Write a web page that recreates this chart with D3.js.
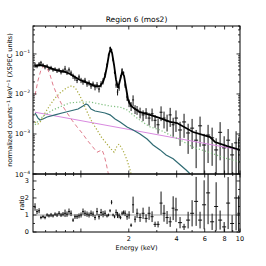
<!DOCTYPE html>
<html><head><meta charset="utf-8">
<script src="https://cdn.jsdelivr.net/npm/d3@7"></script>
<style>body{margin:0;background:#fff}svg{display:block}text{font-family:"DejaVu Sans",sans-serif;fill:#000}</style>
</head><body><svg id="c" width="266" height="266"></svg>
<script>
// ---- data ----
const dataE = [0.515,0.530,0.546,0.561,0.578,0.595,0.613,0.630,0.649,0.668,0.688,0.708,0.729,0.750,0.772,0.795,0.818,0.842,0.867,0.893,0.918,0.946,0.973,1.002,1.031,1.061,1.093,1.125,1.158,1.192,1.227,1.263,1.300,1.339,1.378,
 1.418,1.460,1.492,1.525,1.559,1.593,1.628,1.664,1.700,1.738,1.776,1.815,1.855,1.895,
 1.951,2.008,2.068,2.128,2.19,2.254,
 2.354,2.459,2.568,2.682,2.801,2.925,3.055,
 3.19,3.33,3.48,3.64,3.80,3.96,
 4.20,4.45,4.72,5.0,5.3,5.61,5.95,6.3,6.68,7.08,7.5,7.95,8.42,8.92,9.45,9.8];
const dataV = [0.053,0.050,0.056,0.060,0.053,0.047,0.050,0.042,0.045,0.040,0.042,0.038,0.040,0.035,0.038,0.042,0.035,0.040,0.0335,0.028,0.025,0.022,0.0266,0.022,0.020,0.022,0.0178,0.019,0.0158,0.0178,0.015,0.0168,0.0133,0.0178,0.0211,
 0.030,0.053,0.094,0.141,0.126,0.071,0.035,0.0168,0.0112,0.0141,0.0266,0.040,0.0335,0.0168,
 0.0084,0.0060,0.0050,0.0071,0.0042,0.0040,
 0.0035,0.0030,0.0034,0.0025,0.0032,0.0022,0.0017,
 0.0035,0.0025,0.0021,0.0030,0.0017,0.0025,
 0.00126,0.0020,0.00106,0.0014,0.0007,0.0016,0.00053,0.00094,0.0008,0.0004,0.0011,0.00045,0.0007,0.0003,0.0006,0.0004];
const dataRelErr = [0.15,0.12,0.12,0.12,0.1,0.12,0.1,0.1,0.12,0.1,0.1,0.12,0.12,0.12,0.12,0.2,0.15,0.15,0.15,0.15,0.15,0.15,0.15,0.15,0.15,0.15,0.15,0.15,0.15,0.15,0.18,0.18,0.18,0.18,0.18,
 0.15,0.1,0.08,0.07,0.07,0.08,0.1,0.15,0.18,0.15,0.12,0.1,0.1,0.15,
 0.2,0.22,0.25,0.3,0.25,0.25,
 0.3,0.3,0.3,0.35,0.35,0.35,0.4,
 0.4,0.45,0.45,0.5,0.5,0.55,
 0.6,0.6,0.7,0.7,0.8,0.7,0.9,0.8,0.8,0.95,0.8,0.95,0.9,0.98,0.95,0.95];
const ratioV = [1.47,1.2,1.25,0.85,0.9,0.85,1.0,0.95,1.0,0.95,1.05,1.0,1.1,1.0,1.05,1.1,1.05,1.2,1.1,0.7,0.9,0.9,0.95,1.0,1.2,1.1,1.05,1.0,1.1,1.05,0.85,1.2,0.9,1.15,1.05,
 1.1,0.95,1.0,1.25,1.75,1.0,0.9,1.15,1.0,0.95,0.85,1.1,1.15,1.1,
 0.9,1.0,0.4,1.6,0.75,1.1,
 0.85,1.1,0.8,1.1,0.9,0.45,0.45,
 1.7,1.1,0.85,0.6,1.4,1.3,
 0.55,0.3,0.7,1.1,1.8,0.7,1.6,2.3,0.6,1.5,0.7,0.3,1.7,0.5,2.0,1.1];

// total model
const modelE = [0.515,0.553,0.595,0.640,0.688,0.739,0.795,0.855,0.918,0.988,1.061,1.141,1.227,1.320,1.378,1.418,1.460,1.503,1.536,1.570,1.616,1.664,1.713,1.763,1.815,1.868,1.923,1.980,2.068,2.19,2.354,2.721,3.146,3.64,4.02,5.07,6.49,6.97,8.30,10.0];
const modelV = [0.050,0.053,0.050,0.0447,0.040,0.0376,0.0355,0.0316,0.0266,0.0224,0.020,0.0178,0.0158,0.0158,0.020,0.0282,0.050,0.1,0.133,0.106,0.053,0.0224,0.0141,0.0224,0.0355,0.0282,0.0141,0.0071,0.0050,0.0042,0.0035,0.0030,0.0025,0.0020,0.00188,0.00112,0.00084,0.00063,0.0005,0.0004];

// model components
const pinkE = [0.515,0.538,0.561,0.587,0.613,0.640,0.668,0.708,0.761,0.818,0.880,0.946,1.017,1.093,1.175,1.263,1.320,1.358,1.398,1.439,1.481,1.525];
const pinkV = [0.0094,0.022,0.040,0.050,0.0447,0.030,0.0168,0.0094,0.0053,0.0034,0.0022,0.0015,0.00106,0.00071,0.0005,0.00035,0.00038,0.0004,0.0003,0.00019,0.00011,0.00007];
const oliveE = [0.515,0.538,0.561,0.595,0.640,0.688,0.739,0.795,0.855,0.893,0.932,0.988,1.047,1.109,1.175,1.263,1.358,1.439,1.525,1.616,1.688,1.738,1.789,1.868,1.951,2.038,2.098];
const oliveV = [0.0020,0.00178,0.00211,0.00335,0.0053,0.0079,0.0106,0.0133,0.0158,0.0158,0.0133,0.0089,0.0053,0.00316,0.0020,0.00126,0.00079,0.0006,0.00045,0.00035,0.0005,0.00056,0.00047,0.00034,0.00022,0.000126,0.00008];
const greenE = [0.515,0.553,0.595,0.668,0.761,0.855,0.988,1.141,1.320,1.525,1.763,1.951,2.128,2.354,2.721,3.146,3.64,4.20,5.07,6.49,8.06,10.0];
const greenV = [0.0017,0.0024,0.0030,0.0040,0.005,0.006,0.0063,0.0063,0.0056,0.005,0.0047,0.0040,0.0030,0.0022,0.0015,0.00126,0.00094,0.00071,0.00047,0.00034,0.00025,0.0002];
const tealE = [0.515,0.538,0.553,0.578,0.613,0.688,0.761,0.855,0.960,1.031,1.077,1.109,1.158,1.227,1.320,1.418,1.525,1.640,1.763,1.951,2.128,2.354,2.606,2.842,3.146,3.431,3.80,4.20,4.585,4.93];
const tealV = [0.00335,0.0025,0.00224,0.00237,0.00266,0.0030,0.00335,0.00376,0.0042,0.005,0.0056,0.0053,0.0042,0.00376,0.00355,0.00335,0.0030,0.00237,0.0020,0.0015,0.00126,0.001,0.00075,0.00053,0.0004,0.0003,0.00024,0.00017,0.000126,0.000095];
const violetE = [0.515,2.0,10.0];
const violetV = [0.0035,0.0013,0.0004];

const xTickVals = [2,4,6,8,10];
const yTickVals = [1e-1,1e-2,1e-3,1e-4];
const yTickExp = ["−1","−2","−3","−4"];
const rTickVals = [0,1,2,3];

// ---- layout ----
const svg = d3.select("#c");
const L = 33, R = 240, T = 26, MB = 174, RB = 232;
const x = d3.scaleLog().domain([0.5, 10]).range([L, R]);
const y = d3.scaleLog().domain([1e-4, 0.5]).range([MB, T]);
const yr = d3.scaleLinear().domain([0, 3.41]).range([RB, MB]);

const defs = svg.append("defs");
defs.append("clipPath").attr("id","cm").append("rect").attr("x",L).attr("y",T).attr("width",R-L).attr("height",MB-T);
defs.append("clipPath").attr("id","cr").append("rect").attr("x",L).attr("y",MB).attr("width",R-L).attr("height",RB-MB);

const gm = svg.append("g").attr("clip-path","url(#cm)");
const gr = svg.append("g").attr("clip-path","url(#cr)");

gr.append("line").attr("x1",L).attr("x2",R).attr("y1",yr(1)).attr("y2",yr(1)).attr("stroke","#a0a0a0").attr("stroke-width",1);

const edges = dataE.map((e,i)=>{
  const lo = i>0 ? Math.sqrt(e*dataE[i-1]) : e*e/Math.sqrt(e*dataE[i+1]);
  const hi = i<dataE.length-1 ? Math.sqrt(e*dataE[i+1]) : e*e/Math.sqrt(e*dataE[i-1]);
  return [lo,hi];
});
function clampY(v){ return v<=1e-6 ? 1e-6 : v; }

const dm = gm.append("g").attr("stroke","#111").attr("stroke-width",1).attr("fill","none");
dataE.forEach((e,i)=>{
  const v = dataV[i], er = dataRelErr[i]*v;
  dm.append("line").attr("x1",x(edges[i][0])).attr("x2",x(edges[i][1])).attr("y1",y(v)).attr("y2",y(v));
  dm.append("line").attr("x1",x(e)).attr("x2",x(e)).attr("y1",y(clampY(v-er))).attr("y2",y(v+er));
});

const line = d3.line().x(d=>x(d[0])).y(d=>y(d[1]));
function comp(E,V,color,dash,w){
  gm.append("path").datum(E.map((e,i)=>[e,V[i]])).attr("d",line).attr("fill","none")
    .attr("stroke",color).attr("stroke-width",w).attr("stroke-dasharray",dash);
}
comp(violetE,violetV,"#d98ae0",null,1);
comp(greenE,greenV,"#7fbf7f","1.2,2",1.2);
comp(tealE,tealV,"#2f6b73",null,1.2);
comp(oliveE,oliveV,"#a8a83a","1.2,2",1.2);
comp(pinkE,pinkV,"#e07c8c","4,3",1);
comp(modelE,modelV,"#000",null,1.8);

const dr = gr.append("g").attr("stroke","#111").attr("stroke-width",1);
dataE.forEach((e,i)=>{
  const v = ratioV[i], er = dataRelErr[i]*v;
  dr.append("line").attr("x1",x(edges[i][0])).attr("x2",x(edges[i][1])).attr("y1",yr(v)).attr("y2",yr(v));
  dr.append("line").attr("x1",x(e)).attr("x2",x(e)).attr("y1",yr(v-er)).attr("y2",yr(v+er));
});

svg.append("rect").attr("x",L).attr("y",T).attr("width",R-L).attr("height",MB-T).attr("fill","none").attr("stroke","#000").attr("stroke-width",1);
svg.append("rect").attr("x",L).attr("y",MB).attr("width",R-L).attr("height",RB-MB).attr("fill","none").attr("stroke","#000").attr("stroke-width",1);

const ax = svg.append("g").attr("stroke","#000").attr("stroke-width",0.8);
const xMinor = [0.6,0.7,0.8,0.9,3,5,7,9];
const xMajor = [1,2,4,6,8,10];
[[T,1],[MB,-1],[MB,1],[RB,-1]].forEach(([yy,dir])=>{
  xMajor.forEach(v=>ax.append("line").attr("x1",x(v)).attr("x2",x(v)).attr("y1",yy).attr("y2",yy+dir*3.5));
  xMinor.forEach(v=>ax.append("line").attr("x1",x(v)).attr("x2",x(v)).attr("y1",yy).attr("y2",yy+dir*2));
});
for(let k=-4;k<=-1;k++){
  for(let m=1;m<=9;m++){
    const v=m*Math.pow(10,k); if(v>0.5) continue;
    const len = m===1?3.5:2;
    ax.append("line").attr("x1",L).attr("x2",L+len).attr("y1",y(v)).attr("y2",y(v));
    ax.append("line").attr("x1",R).attr("x2",R-len).attr("y1",y(v)).attr("y2",y(v));
  }
}
[0,0.5,1,1.5,2,2.5,3].forEach(v=>{
  const len = Number.isInteger(v)?3.5:2;
  ax.append("line").attr("x1",L).attr("x2",L+len).attr("y1",yr(v)).attr("y2",yr(v));
  ax.append("line").attr("x1",R).attr("x2",R-len).attr("y1",yr(v)).attr("y2",yr(v));
});

const fs = 6.5;
xTickVals.forEach(v=>svg.append("text").attr("x",x(v)).attr("y",RB+9).attr("text-anchor","middle").attr("font-size",fs).text(v));
yTickVals.forEach((v,i)=>{
  const t = svg.append("text").attr("x",L-3).attr("y",y(v)+2.5).attr("text-anchor","end").attr("font-size",fs);
  t.append("tspan").text("10");
  t.append("tspan").attr("dy",-3).attr("font-size",4.5).text(yTickExp[i]);
});
rTickVals.forEach(v=>svg.append("text").attr("x",L-4).attr("y",yr(v)+2.3).attr("text-anchor","end").attr("font-size",fs).text(v));

svg.append("text").attr("x",(L+R)/2).attr("y",22).attr("text-anchor","middle").attr("font-size",7.5).text("Region 6 (mos2)");
svg.append("text").attr("x",(L+R)/2).attr("y",250).attr("text-anchor","middle").attr("font-size",6.5).text("Energy (keV)");
svg.append("text").attr("transform","translate(24,"+((MB+RB)/2)+") rotate(-90)").attr("text-anchor","middle").attr("font-size",6.5).text("ratio");
const yl = svg.append("text").attr("transform","translate(12,"+((T+MB)/2)+") rotate(-90)").attr("text-anchor","middle").attr("font-size",6.5);
yl.append("tspan").text("normalized counts");
yl.append("tspan").attr("dy",-2.5).attr("font-size",4.5).text("−1");
yl.append("tspan").attr("dy",2.5).text(" keV");
yl.append("tspan").attr("dy",-2.5).attr("font-size",4.5).text("−1");
yl.append("tspan").attr("dy",2.5).text(" (XSPEC units)");
</script></body></html>
